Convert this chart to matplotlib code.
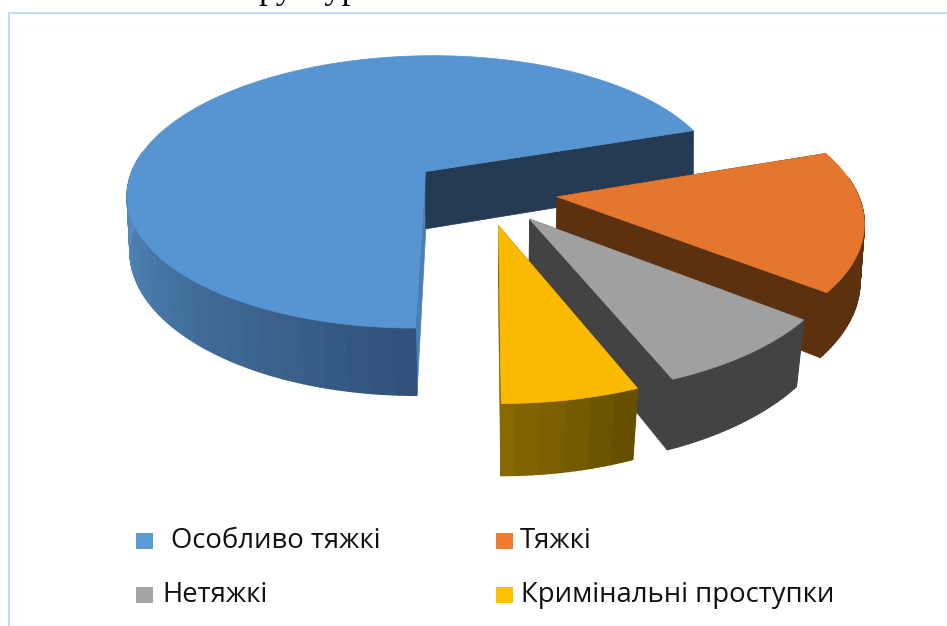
#!/usr/bin/env python3

import numpy as np
from matplotlib import pyplot as plt
from matplotlib.colors import to_rgb
from matplotlib.patches import Polygon, Rectangle

labels = ['Особливо тяжкі', 'Тяжкі', 'Нетяжкі', 'Кримінальні проступки']
values = [69.7, 15.8, 8.3, 6.1]

top_colors = ['#5795D2', '#E5762D', '#A0A0A0', '#FBB900']
# radial walls: at the start and at the end of each slice
wall_start = ['#4A80B5', '#5C3110', '#434343', '#665000']
wall_end = ['#243B53', '#5C3110', '#434343', '#8A6A00']
# outer wall runs from one shade to the other along the arc
arc_from = ['#30527A', '#5C3110', '#434343', '#665000']
arc_to = ['#5A92C8', '#5C3110', '#434343', '#8A6A00']
legend_colors = ['#5B9BD5', '#ED7D31', '#A5A5A5', '#FFC000']

start_angle = 180
explode = 0.245
cx, cy = 484, 191
rx, ry = 300, 139
k = 0.152
depth = 58.5


def project(u, v):
    s = 1 / (1 + k * v)
    return cx + rx * u * s, cy - ry * v * s


def project_low(u, v):
    s = 1 / (1 + k * v)
    x, y = project(u, v)
    f = 1 - 0.11 * (s - 0.93)
    return cx + (x - cx) * f, y + depth * s


def mix(c1, c2, t):
    a = np.array(to_rgb(c1))
    b = np.array(to_rgb(c2))
    return tuple(a + (b - a) * t)


fig = plt.figure(figsize=(9.47, 6.26), dpi=100)
ax = plt.axes((0, 0, 1, 1), frame_on=False)
ax.set_xlim(0, 947)
ax.set_ylim(626, 0)
ax.axis('off')

# frame of the pasted chart
ax.plot([947, 9, 9], [13, 13, 626], color='#BDD9F2', lw=1.3)

ax.text(229, -2.5, 'структур', family='Liberation Serif', fontsize=25,
        va='baseline', color='black')

angles = np.cumsum([0] + values) / sum(values) * 360 + start_angle

for i in range(len(values)):
    a0, a1 = angles[i], angles[i + 1]
    mid = np.radians((a0 + a1) / 2)
    ou, ov = explode * np.sin(mid), explode * np.cos(mid)
    t = np.radians(np.linspace(a0, a1, int(a1 - a0) + 2))
    us = ou + np.sin(t)
    vs = ov + np.cos(t)

    top = [project(u, v) for u, v in zip(us, vs)]
    low = [project_low(u, v) for u, v in zip(us, vs)]
    apex = project(ou, ov)
    apex_low = project_low(ou, ov)

    # radial walls
    ax.add_patch(Polygon([apex, top[0], low[0], apex_low], closed=True,
                         fc=wall_start[i], ec=wall_start[i], lw=0.5))
    ax.add_patch(Polygon([apex, top[-1], low[-1], apex_low], closed=True,
                         fc=wall_end[i], ec=wall_end[i], lw=0.5))

    # outer wall, only the part that faces the viewer, in flat bands
    front = np.nonzero(np.cos(t) < 0.15)[0]
    front = front[front < len(t) - 1]
    for n, j in enumerate(front):
        band = np.floor(n / 4) * 4 / max(len(front) - 1, 1)
        c = mix(arc_from[i], arc_to[i], min(band, 1))
        ax.add_patch(Polygon([top[j], top[j + 1], low[j + 1], low[j]], closed=True,
                             fc=c, ec=c, lw=1))

    # top face
    ax.add_patch(Polygon([apex] + top, closed=True, fc=top_colors[i],
                         ec=top_colors[i], lw=0.5))

legend_x = [136, 496, 136, 496]
legend_y = [541, 541, 595, 595]
text_x = [171, 520, 162, 521]
for i in range(len(labels)):
    ax.add_patch(Rectangle((legend_x[i], legend_y[i] - 8), 17, 16, fc=legend_colors[i], ec='none'))
    ax.text(text_x[i], legend_y[i], labels[i], family='Open Sans', fontsize=19.8,
            va='center', color='#111111')

plt.savefig('out.png')
